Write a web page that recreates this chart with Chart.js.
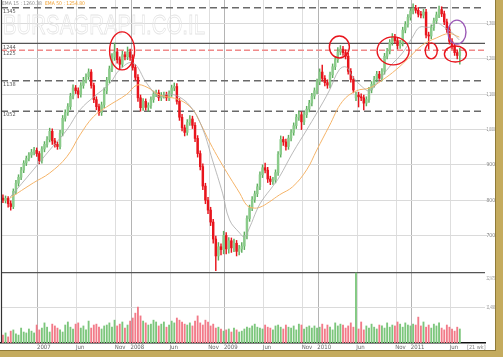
<!DOCTYPE html>
<html>
<head>
<meta charset="utf-8">
<script src="https://cdn.jsdelivr.net/npm/chart.js@4.4.1/dist/chart.umd.min.js"></script>
<style>
  html, body { margin: 0; padding: 0; background: #fff; }
  #frame {
    position: absolute; left: 0; top: 0;
    width: 496px; height: 351px;
    border-right: 7px solid #c4ab5e;
    border-bottom: 6px solid #c4ab5e;
    box-shadow: inset -1px -1px 0 #8f7a38;
    background: #fff;
  }
  canvas { display: block; }
</style>
</head>
<body>
<div id="frame"><canvas id="chart" width="496" height="351"></canvas></div>
<script>
// candles: 3 bars per month, first bar in mid Aug 2006 (month 0 = Jan 2007)
const firstMonth = -4.5;
const barsPerMonth = 3;

const closes = [
  800,805,790,782,825,848,865,885,905,918,
  928,936,941,932,912,945,958,972,995,968,
  958,952,990,1032,1048,1065,1095,1118,1110,1100,
  1125,1140,1150,1163,1125,1085,1065,1048,1070,1110,
  1140,1172,1205,1220,1198,1185,1212,1206,1220,1205,
  1176,1148,1090,1062,1080,1063,1068,1085,1101,1104,
  1090,1097,1098,1090,1102,1118,1122,1080,1035,1005,
  992,1020,1030,1012,975,932,895,840,800,772,
  738,690,642,668,660,700,662,685,665,678,
  655,662,670,700,748,778,802,818,838,872,
  892,885,860,853,857,878,930,972,965,952,
  976,992,1011,1035,1042,1022,1042,1058,1075,1095,
  1110,1135,1163,1145,1133,1126,1155,1178,1198,1220,
  1228,1218,1208,1165,1142,1112,1098,1093,1090,1075,
  1085,1112,1128,1143,1157,1146,1165,1208,1222,1247,
  1262,1252,1238,1245,1282,1298,1318,1336,1344,1338,
  1327,1324,1333,1268,1265,1289,1308,1325,1340,1328,
  1305,1283,1250,1236,1218,1210,1220
];
const opens = [
  806,800,805,790,782,825,848,865,885,905,
  918,928,936,941,932,912,945,958,972,995,
  968,958,952,990,1032,1048,1065,1095,1118,1110,
  1100,1125,1140,1150,1163,1125,1085,1065,1048,1070,
  1110,1140,1172,1205,1220,1198,1185,1212,1206,1220,
  1205,1176,1148,1090,1062,1080,1063,1068,1085,1101,
  1104,1090,1097,1098,1090,1102,1118,1122,1080,1035,
  1005,992,1020,1030,1012,975,932,895,840,800,
  772,738,690,642,668,660,700,662,685,665,
  678,655,662,670,700,748,778,802,818,838,
  872,892,885,860,853,857,878,930,972,965,
  952,976,992,1011,1035,1042,1022,1042,1058,1075,
  1095,1110,1135,1163,1145,1133,1126,1155,1178,1198,
  1220,1228,1218,1208,1165,1142,1090,1098,1093,1090,
  1075,1085,1112,1128,1143,1157,1146,1165,1208,1222,
  1247,1262,1252,1238,1245,1282,1298,1318,1336,1344,
  1338,1327,1324,1333,1268,1265,1289,1308,1325,1340,
  1328,1305,1283,1250,1236,1218,1210
];
const highs = [
  815,812,810,798,832,856,872,893,912,925,
  935,944,950,948,938,952,966,980,1004,1002,
  975,965,998,1040,1056,1074,1103,1127,1125,1118,
  1133,1148,1158,1172,1170,1132,1093,1072,1078,1118,
  1148,1180,1215,1245,1230,1206,1222,1220,1234,1228,
  1212,1184,1156,1098,1088,1087,1076,1093,1109,1112,
  1112,1105,1106,1106,1110,1126,1132,1130,1088,1043,
  1013,1028,1040,1038,1020,983,940,903,848,808,
  780,746,698,680,676,712,708,694,693,690,
  686,672,680,710,756,786,810,826,846,880,
  900,905,893,868,865,886,938,982,980,973,
  984,1000,1019,1043,1052,1050,1050,1066,1083,1103,
  1118,1143,1172,1183,1153,1141,1163,1186,1206,1232,
  1238,1236,1226,1216,1173,1150,1106,1106,1101,1098,
  1093,1120,1136,1151,1165,1165,1173,1216,1230,1255,
  1272,1270,1260,1253,1290,1306,1326,1344,1356,1352,
  1346,1335,1341,1341,1276,1297,1316,1333,1350,1348,
  1336,1313,1291,1258,1244,1226,1230
];
const lows = [
  793,792,780,772,776,818,840,858,878,898,
  911,921,928,924,903,905,937,950,965,958,
  950,944,945,982,1024,1040,1057,1087,1102,1090,
  1092,1117,1132,1142,1117,1076,1056,1040,1040,1062,
  1102,1132,1164,1196,1188,1172,1177,1197,1198,1196,
  1168,1140,1080,1052,1054,1055,1052,1060,1077,1093,
  1082,1082,1089,1082,1082,1094,1110,1072,1026,996,
  982,984,1012,1003,966,922,886,830,790,762,
  728,678,600,630,645,648,648,650,652,654,
  642,645,652,660,690,740,770,794,810,830,
  864,877,850,844,845,849,870,922,955,942,
  944,968,984,1003,1026,1000,1014,1034,1050,1067,
  1087,1102,1127,1137,1124,1117,1118,1147,1170,1190,
  1212,1210,1200,1157,1134,1104,1082,1064,1082,1056,
  1067,1077,1104,1120,1135,1138,1138,1157,1200,1214,
  1239,1244,1228,1230,1237,1274,1290,1310,1328,1330,
  1319,1316,1316,1260,1228,1257,1281,1300,1317,1320,
  1297,1275,1242,1228,1210,1200,1185
];
const volumes = [
  2600,3300,2000,3900,4300,3000,2600,4900,3600,3300,
  4600,3900,3300,5900,4300,4900,6600,5200,3600,6200,
  5600,4900,4300,3600,5900,6900,5200,4600,6200,6600,
  4900,5600,4300,7200,4900,5900,6200,5200,4600,5600,
  5900,6600,5200,7500,5600,6200,6900,4900,5900,7200,
  8200,9800,11800,8900,7200,6600,5900,6200,7500,6900,
  5600,6200,6900,5200,5900,7200,6600,8200,7500,6900,
  6200,5900,6600,5600,7200,8900,6600,5900,7500,6900,
  5600,6200,4900,5200,4600,3900,4300,4600,3600,4900,
  4300,3600,3900,4600,5200,4900,5600,6200,5200,4900,
  4600,5900,5200,4900,4300,5600,5900,5200,4600,5900,
  5200,4900,5600,4300,6200,5900,4600,5200,5600,4900,
  5600,4900,5200,6200,4600,5900,5200,4300,6600,5600,
  6200,5900,4900,5600,6600,5200,22975,4600,6900,4300,
  5600,4900,6200,5200,4600,5900,5600,4900,6600,5200,
  5900,5600,6900,6200,5200,6600,5900,5600,6200,5900,
  8500,5600,6900,5200,5900,4900,6200,5600,6600,4900,
  4300,5900,5200,4600,3900,5200,4600
];

// moving averages
const ema15Months = [-3.6,-0.6,1.5,3.7,5.4,7.3,9.2,10.5,12.2,14.0,15.6,16.5,18.2,19.9,21.2,22.4,23.7,24.6,25.9,26.5,27.2,28.1,28.8,30.1,31.0,32.7,34.5,35.8,37.4,38.7,39.6,40.4,41.7,42.6,43.8,45.1,46.8,48.1,49.0,50.3,51.2,52.2,53.2,54.1];
const ema15 = [808,886,942,999,1056,1095,1130,1170,1189,1130,1092,1100,1092,1056,999,914,820,744,707,696,724,772,800,838,866,934,999,1047,1110,1170,1177,1150,1120,1110,1140,1177,1217,1262,1290,1290,1302,1290,1274,1254];
const ema50Months = [-3.6,-0.6,1.5,3.7,5.4,7.1,8.8,11.4,12.7,14.0,15.6,18.2,19.9,20.8,22.1,23.3,24.6,25.9,26.8,27.6,28.5,29.7,31.0,32.7,34.5,35.8,37.4,39.1,40.9,42.6,44.2,46.0,47.7,49.4,51.2,52.8,54.1];
const ema50 = [806,849,877,923,985,1036,1064,1100,1126,1120,1098,1084,1056,1020,962,914,866,820,786,778,780,795,815,838,886,942,1010,1080,1110,1118,1140,1170,1205,1240,1260,1272,1262];

// x axis
const tickMonths = [0,5,10,12,17,22,24,29,34,36,41,46,48,53];
const tickLabels = ['2007','Jun','Nov','2008','Jun','Nov','2009','Jun','Nov','2010','Jun','Nov','2011','Jun'];
const yearMonths = [0,12,24,36,48];
const priceTicks = [700,800,900,1000,1100,1200,1300];
const volTicks = [11488,22975];

// support / resistance levels
const levelValues = [1345,1244,1225,1138,1052];
const levelStyles = [
  { color: '#6a6a6a', dash: [7,4], width: 1.5 },
  { color: '#555555', dash: [], width: 1.2 },
  { color: '#f08a8a', dash: [6,3], width: 1.5 },
  { color: '#6a6a6a', dash: [7,4], width: 1.5 },
  { color: '#6a6a6a', dash: [7,4], width: 1.5 }
];

// hand-drawn marks
const markMonths = [10.8,38.7,45.6,50.5,53.6,53.8];
const markPrices = [1223,1234,1223,1223,1214,1276];
const markShapes = [
  { rx: 12.5, ry: 19, color: '#e8141c' },
  { rx: 10, ry: 11, color: '#e8141c' },
  { rx: 16, ry: 14, color: '#e8141c' },
  { rx: 6, ry: 8, color: '#e8141c' },
  { rx: 11, ry: 8, color: '#e8141c' },
  { rx: 9, ry: 12, color: '#9b59b6' }
];

const X_MIN = -4.75, X_MAX = 57.4;
const UP = '#8acb8a', DOWN = '#e8141c';
const FONT = "'Liberation Sans Narrow', 'DejaVu Sans Condensed', 'Liberation Sans', sans-serif";

const barMonths = closes.map((_, i) => firstMonth + i / barsPerMonth);
const isUp = closes.map((c, i) => c >= opens[i]);
const colors = isUp.map(u => u ? UP : DOWN);
const wickColors = isUp.map(u => u ? '#5fae5f' : DOWN);
const volColors = isUp.map(u => u ? '#7cc67c' : '#f27a88');

const levelSets = levelValues.map((v, i) => ({
  type: 'line',
  data: [{ x: X_MIN, y: v }, { x: X_MAX, y: v }],
  borderColor: levelStyles[i].color,
  borderDash: levelStyles[i].dash,
  borderWidth: levelStyles[i].width,
  pointRadius: 0,
  yAxisID: 'y',
  order: 6
}));

const decor = {
  id: 'decor',
  beforeDatasetsDraw(chart) {
    const ctx = chart.ctx;
    ctx.save();
    ctx.font = "28px 'Liberation Sans', sans-serif";
    ctx.strokeStyle = '#e4e4e4';
    ctx.lineWidth = 0.8;
    ctx.strokeText('BURSAGRAPH.CO.IL', 3, 34, 202);
    ctx.restore();
  },
  afterDatasetsDraw(chart) {
    const ctx = chart.ctx;
    const a = chart.chartArea;
    const xs = chart.scales.x, ys = chart.scales.y, yv = chart.scales.yVol;
    ctx.save();
    // left frame line
    ctx.strokeStyle = '#333';
    ctx.lineWidth = 1.2;
    ctx.beginPath();
    ctx.moveTo(a.left + 0.5, 0); ctx.lineTo(a.left + 0.5, a.bottom);
    ctx.stroke();
    // level labels
    ctx.font = '5.5px ' + FONT;
    ctx.fillStyle = '#555';
    ctx.textBaseline = 'top';
    ctx.textAlign = 'left';
    levelValues.forEach(v => {
      ctx.fillText(String(v), a.left + 2, ys.getPixelForValue(v) + 1);
    });
    // price labels on the right
    ctx.fillStyle = '#777';
    ctx.textBaseline = 'middle';
    priceTicks.forEach(v => {
      ctx.fillText(v.toLocaleString('en-US'), a.right + 1.5, ys.getPixelForValue(v), 8.5);
    });
    // volume labels
    ctx.fillStyle = '#888';
    volTicks.forEach((v, i) => {
      const y = yv.getPixelForValue(v) + (i === 1 ? 6 : 0);
      ctx.fillText(v.toLocaleString('en-US'), a.right + 1.5, y, 8.5);
    });
    // header
    ctx.font = '5px ' + FONT;
    ctx.textBaseline = 'top';
    ctx.fillStyle = '#888';
    ctx.fillText('EMA 15 : 1260.38', 2, 1);
    ctx.fillStyle = '#f0a030';
    ctx.fillText('EMA 50 : 1254.80', 45, 1);
    // bottom right note
    ctx.font = '5.5px ' + FONT;
    ctx.fillStyle = '#888';
    ctx.fillText('[21 wk]', 467, a.bottom + 2);
    // circles
    ctx.lineWidth = 1.4;
    markMonths.forEach((m, i) => {
      const s = markShapes[i];
      ctx.strokeStyle = s.color;
      ctx.beginPath();
      ctx.ellipse(xs.getPixelForValue(m), ys.getPixelForValue(markPrices[i]), s.rx, s.ry, 0, 0, Math.PI * 2);
      ctx.stroke();
    });
    ctx.restore();
  }
};

new Chart(document.getElementById('chart'), {
  data: {
    datasets: [
      {
        type: 'line', label: 'EMA 15',
        data: ema15Months.map((m, i) => ({ x: m, y: ema15[i] })),
        borderColor: '#a8a8a8', borderWidth: 0.8, pointRadius: 0,
        tension: 0.4, yAxisID: 'y', order: 1
      },
      {
        type: 'line', label: 'EMA 50',
        data: ema50Months.map((m, i) => ({ x: m, y: ema50[i] })),
        borderColor: '#f5b469', borderWidth: 1, pointRadius: 0,
        tension: 0.4, yAxisID: 'y', order: 1
      },
      {
        type: 'bar', label: 'body',
        data: barMonths.map((m, i) => ({ x: m, y: [opens[i], closes[i]] })),
        backgroundColor: colors, barThickness: 1.8, grouped: false,
        yAxisID: 'y', order: 2
      },
      {
        type: 'bar', label: 'wick',
        data: barMonths.map((m, i) => ({ x: m, y: [lows[i], highs[i]] })),
        backgroundColor: wickColors, barThickness: 0.8, grouped: false,
        yAxisID: 'y', order: 3
      },
      {
        type: 'bar', label: 'volume',
        data: barMonths.map((m, i) => ({ x: m, y: volumes[i] })),
        backgroundColor: volColors, barThickness: 1.2, grouped: false,
        yAxisID: 'yVol', order: 4
      },
      ...levelSets
    ]
  },
  options: {
    responsive: false,
    animation: false,
    devicePixelRatio: 1,
    layout: { padding: { left: 1, right: 0, top: 0, bottom: 0 } },
    plugins: { legend: { display: false }, tooltip: { enabled: false } },
    scales: {
      x: {
        type: 'linear', min: X_MIN, max: X_MAX, offset: false,
        afterBuildTicks: s => { s.ticks = tickMonths.map(v => ({ value: v })); },
        afterFit: s => { s.height = 8; s.paddingLeft = 0; s.paddingRight = 0; },
        ticks: {
          autoSkip: false, maxRotation: 0, align: 'start', padding: 1, labelOffset: -1,
          color: '#666', font: { family: FONT, size: 6 },
          callback: v => tickLabels[tickMonths.indexOf(v)]
        },
        grid: {
          offset: false,
          drawTicks: false,
          color: c => yearMonths.includes(c.tick && c.tick.value) ? '#b4b4b4' : '#dedede',
          lineWidth: 1
        },
        border: { display: true, color: '#111', width: 1.5 }
      },
      y: {
        type: 'linear', position: 'right', min: 395.4, max: 1367.1,
        afterBuildTicks: s => { s.ticks = priceTicks.map(v => ({ value: v })); },
        afterFit: s => { s.width = 11; s.paddingTop = 0; s.paddingBottom = 0; },
        ticks: { display: false },
        grid: { color: '#dadada', tickLength: 2, lineWidth: 1 },
        border: { display: false }
      },
      yVol: {
        type: 'linear', position: 'right', min: 0, max: 112578,
        afterBuildTicks: s => { s.ticks = volTicks.map(v => ({ value: v })); },
        afterFit: s => { s.width = 0; s.paddingTop = 0; s.paddingBottom = 0; },
        ticks: { display: false },
        grid: {
          drawTicks: false,
          color: c => (c.tick && c.tick.value === 22975) ? '#555' : '#dadada',
          lineWidth: c => (c.tick && c.tick.value === 22975) ? 1.2 : 1
        },
        border: { display: false }
      }
    }
  },
  plugins: [decor]
});
</script>
</body>
</html>
